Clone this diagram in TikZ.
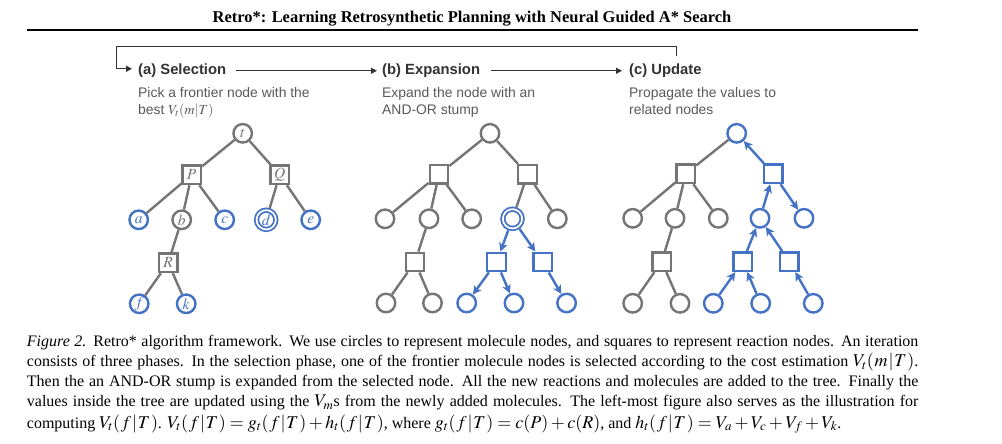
\documentclass[tikz,border=0pt]{standalone}
\usepackage{mathptmx}
\usepackage[no-math]{fontspec}
\setmainfont{Liberation Serif}
\newfontfamily\hsans{Liberation Sans}
\DeclareMathSizes{16}{18}{13}{10}
\usetikzlibrary{arrows.meta}
\newcommand\myfT{(\mkern0.8mu f\mkern0.8mu|\mkern0.8mu T\mkern0.8mu)}
\newcommand\mymT{(\mkern0.8mu m\mkern0.8mu|\mkern0.8mu T\mkern0.8mu)}
\definecolor{tgray}{RGB}{117,117,117}
\definecolor{tblue}{RGB}{68,114,196}
\definecolor{hdark}{RGB}{51,51,51}
\definecolor{hsub}{RGB}{89,89,89}
\tikzset{
  lbl/.style={font=\fontsize{15.5}{15.5}\selectfont},
  mol/.style={circle, draw=tgray, line width=2.4pt, minimum size=18.5pt, inner sep=0pt, text=tgray, lbl},
  molb/.style={mol, draw=tblue, text=tblue},
  molsel/.style={circle, draw=tblue, line width=1.8pt, double=white, double distance=1.7pt, minimum size=19.3pt, inner sep=0pt, outer sep=2.7pt, text=tblue, lbl},
  rxn/.style={rectangle, draw=tgray, line width=2.4pt, minimum size=18.5pt, inner sep=0pt, text=tgray, lbl},
  rxnb/.style={rxn, draw=tblue, text=tblue},
  edge/.style={draw=tgray, line width=2.4pt},
  barr/.style={draw=tblue, line width=2.4pt, -{Stealth[length=8.5pt,width=8.5pt,inset=2pt]}},
  hdr/.style={anchor=base west, inner sep=0pt, text=hdark, font=\hsans\bfseries\fontsize{14.8}{17}\selectfont},
  sub/.style={anchor=base west, inner sep=0pt, text=hsub, font=\hsans\fontsize{13.9}{17.3}\selectfont},
  flow/.style={draw=hdark, line width=1.3pt, -{Triangle[length=6pt,width=6pt]}},
  capl/.style={anchor=base west, inner sep=0pt, font=\fontsize{16}{19}\selectfont},
}
\begin{document}
\begin{tikzpicture}[x=1pt,y=-1pt]
\useasboundingbox (0,0) rectangle (1002,444);
\fill[white] (0,0) rectangle (1002,444);

% title and rule
\node[anchor=base, inner sep=0pt, font=\bfseries\fontsize{16.45}{18}\selectfont] (title) at (472,22.5)
  {Retro*: Learning Retrosynthetic Planning with Neural Guided A* Search};
\draw[line width=1.4pt] (26.7,30) -- (918.3,30);

% phase headers
\node[hdr] (ha) at (138,74.6) {(a) Selection};
\node[hdr] (hb) at (382,74.6) {(b) Expansion};
\node[hdr] (hc) at (629,74.6) {(c) Update};
\node[sub] (sa1) at (138,97.5) {Pick a frontier node with the};
\node[sub] (sa2) at (138,114.8) {best $V_t(m|T)$};
\node[sub] (sb1) at (382,97.5) {Expand the node with an};
\node[sub] (sb2) at (382,114.8) {AND-OR stump};
\node[sub] (sc1) at (629,97.5) {Propagate the values to};
\node[sub] (sc2) at (629,114.8) {related nodes};
\draw[flow] ([xshift=10pt]ha.east) -- ([xshift=-5pt]hb.west);
\draw[flow] ([xshift=11pt]hb.east) -- ([xshift=-7pt]hc.west);
\coordinate (LT) at (116.7,46.7);
\coordinate (RT) at (676.7,56);
\draw[flow] (RT) |- (LT) |- ([xshift=-6pt,yshift=2pt]ha.west);

% panel (a)
\begin{scope}[shift={(242.7,133.3)}, name prefix=A-]
\node[mol] (t) at (0,0) {$t$};
\node[rxn] (P) at (-51,41.5) {$P$};
\node[rxn] (Q) at (37,41.5) {$Q$};
\node[molb] (a) at (-104,86.5) {$a$};
\node[mol] (b) at (-61,86.5) {$b$};
\node[molb] (c) at (-18,86.5) {$c$};
\node[molsel] (d) at (23.5,86.5) {$d$};
\node[molb] (e) at (68,86.5) {$e$};
\node[rxn] (R) at (-74.5,129.5) {$R$};
\node[molb] (f) at (-103.5,170.5) {$f$};
\node[molb] (k) at (-56.5,170.5) {$k$};
\draw[edge] (t) -- (P);
\draw[edge] (t) -- (Q);
\draw[edge] (P) -- (a);
\draw[edge] (P) -- (b);
\draw[edge] (P) -- (c);
\draw[edge] (Q) -- (d);
\draw[edge] (Q) -- (e);
\draw[edge] (b) -- (R);
\draw[edge] (R) -- (f);
\draw[edge] (R) -- (k);
\end{scope}

% panel (b)
\begin{scope}[shift={(490,133.3)}, name prefix=B-]
\node[mol] (t) at (0,0) {};
\node[rxn] (P) at (-51,41) {};
\node[rxn] (Q) at (37.5,41) {};
\node[mol] (a) at (-105,85.5) {};
\node[mol] (b) at (-61,85.5) {};
\node[mol] (c) at (-18.3,85.5) {};
\node[molsel] (d) at (22.5,85.5) {};
\node[mol] (e) at (67.3,85.5) {};
\node[rxn] (R) at (-75,128.7) {};
\node[rxnb] (R2) at (6.5,128.7) {};
\node[rxnb] (R3) at (52.6,128.7) {};
\node[mol] (f) at (-104,169.7) {};
\node[mol] (k) at (-57.5,169.7) {};
\node[molb] (n1) at (-23.3,169.7) {};
\node[molb] (n2) at (24,169.7) {};
\node[molb] (n3) at (76.6,169.7) {};
\draw[edge] (t) -- (P);
\draw[edge] (t) -- (Q);
\draw[edge] (P) -- (a);
\draw[edge] (P) -- (b);
\draw[edge] (P) -- (c);
\draw[edge] (Q) -- (d);
\draw[edge] (Q) -- (e);
\draw[edge] (b) -- (R);
\draw[edge] (R) -- (f);
\draw[edge] (R) -- (k);
\draw[barr] (d) -- (R2);
\draw[barr] (d) -- (R3);
\draw[barr] (R2) -- (n1);
\draw[barr] (R2) -- (n2);
\draw[barr] (R3) -- (n3);
\end{scope}

% panel (c)
\begin{scope}[shift={(736.7,133.3)}, name prefix=C-]
\node[molb] (t) at (0,0) {};
\node[rxn] (P) at (-51,40.5) {};
\node[rxnb] (Q) at (36.6,40.5) {};
\node[mol] (a) at (-104,85) {};
\node[mol] (b) at (-61.7,85) {};
\node[mol] (c) at (-18.4,85) {};
\node[molb] (d) at (23.3,85) {};
\node[molb] (e) at (67.3,85) {};
\node[rxn] (R) at (-75,128.4) {};
\node[rxnb] (R2) at (6,128.4) {};
\node[rxnb] (R3) at (52.6,128.4) {};
\node[mol] (f) at (-104,170) {};
\node[mol] (k) at (-56.7,170) {};
\node[molb] (n1) at (-23.4,170) {};
\node[molb] (n2) at (24,170) {};
\node[molb] (n3) at (76.6,170) {};
\draw[edge] (t) -- (P);
\draw[edge] (P) -- (a);
\draw[edge] (P) -- (b);
\draw[edge] (P) -- (c);
\draw[edge] (b) -- (R);
\draw[edge] (R) -- (f);
\draw[edge] (R) -- (k);
\draw[barr] (Q) -- (t);
\draw[barr] (d) -- (Q);
\draw[barr] (Q) -- (e);
\draw[barr] (R2) -- (d);
\draw[barr] (R3) -- (d);
\draw[barr] (n1) -- (R2);
\draw[barr] (n2) -- (R2);
\draw[barr] (n3) -- (R3);
\end{scope}

% caption
\node[capl] (cap1) at (26.7,346.5) {\makebox[891.5pt][s]{\textit{Figure 2.} Retro* algorithm framework. We use circles to represent molecule nodes, and squares to represent reaction nodes. An iteration}};
\node[capl] (cap2) at (26.7,366.6) {\makebox[891.5pt][s]{consists of three phases. In the selection phase, one of the frontier molecule nodes is selected according to the cost estimation $V_t\mymT$.}};
\node[capl] (cap3) at (26.7,386.7) {\makebox[891.5pt][s]{Then the an AND-OR stump is expanded from the selected node. All the new reactions and molecules are added to the tree. Finally the}};
\node[capl] (cap4) at (26.7,406.8) {\makebox[891.5pt][s]{values inside the tree are updated using the $V_m$s from the newly added molecules. The left-most figure also serves as the illustration for}};
\node[capl] (cap5) at (26.7,428) {computing $V_t\myfT$. $V_t\myfT = g_t\myfT + h_t\myfT$, where $g_t\myfT = c(P) + c(R)$, and $h_t\myfT = V_a + V_c + V_f + V_k$.};
\end{tikzpicture}
\end{document}
